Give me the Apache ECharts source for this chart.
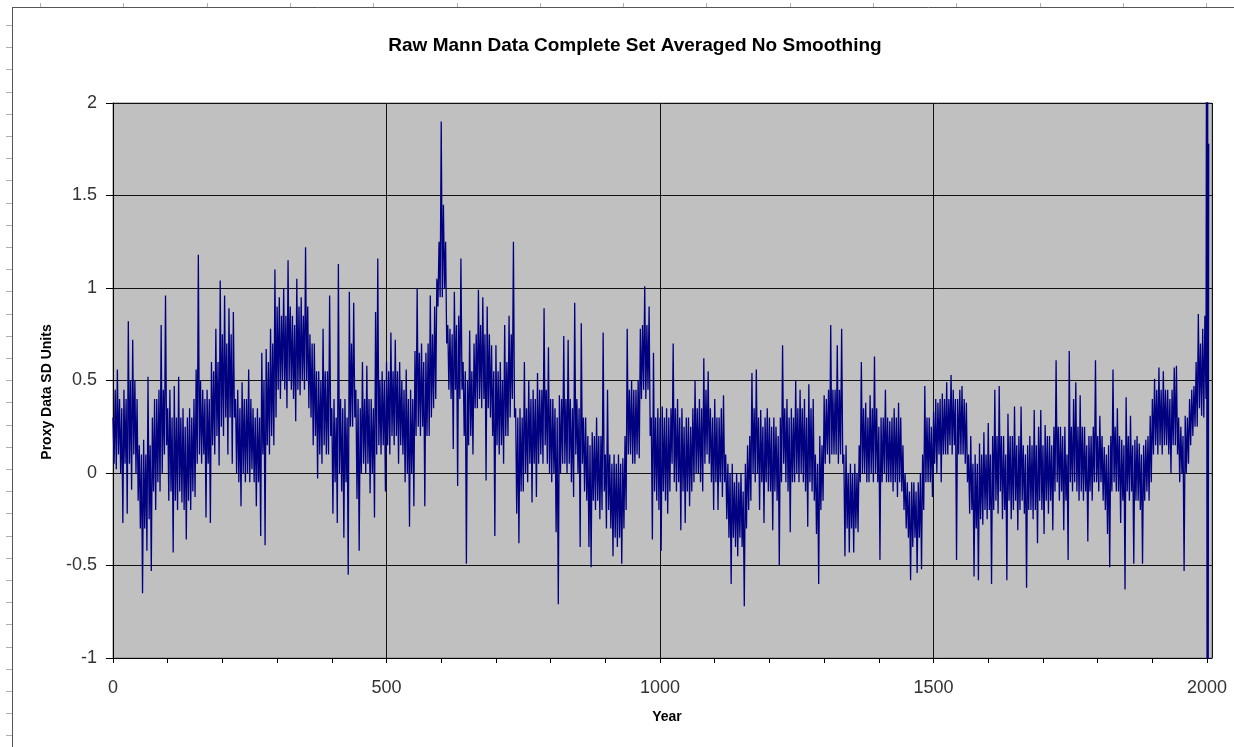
<!DOCTYPE html>
<html>
<head>
<meta charset="utf-8">
<title>Raw Mann Data Complete Set Averaged No Smoothing</title>
<script src="https://cdn.jsdelivr.net/npm/echarts@6/dist/echarts.min.js"></script>
<style>
  html, body { margin: 0; padding: 0; background: #ffffff; }
  #chart { width: 1234px; height: 747px; }
</style>
</head>
<body>
<div id="chart"></div>
<script>
// Averaged proxy series, in SD units, sampled every 2 years; one array per century.
const chartTitle = 'Raw Mann Data Complete Set Averaged No Smoothing';
const xAxisTitle = 'Year';
const yAxisTitle = 'Proxy Data SD Units';
const yearStep = 2;

const c0000 = [0.30, 0.05, 0.45, 0.02, 0.56, 0.10, 0.40, 0.00, 0.35, -0.27, 0.45, 0.05, 0.40, -0.22, 0.82, 0.05, 0.50, -0.09, 0.72, 0.10, 0.50, 0.00, 0.40, -0.15, 0.15, -0.30, 0.10, -0.65, 0.18, -0.30, 0.10, -0.42, 0.52, -0.25, 0.15, -0.53, 0.30, -0.10, 0.40, -0.20, 0.40, -0.05, 0.45, -0.10, 0.80, 0.00, 0.45, 0.10, 0.96, 0.15];
const c0100 = [0.35, -0.15, 0.45, -0.10, 0.30, -0.43, 0.47, -0.15, 0.30, -0.20, 0.52, -0.10, 0.30, -0.16, 0.35, -0.20, 0.25, -0.36, 0.30, -0.15, 0.35, -0.20, 0.30, -0.10, 0.40, -0.13, 0.56, 0.05, 1.18, 0.10, 0.50, 0.05, 0.45, 0.10, 0.40, -0.24, 0.45, 0.05, 0.40, -0.27, 0.60, 0.15, 0.55, 0.10, 0.78, 0.20, 0.60, 0.04, 1.04, 0.25];
const c0200 = [0.75, 0.20, 0.96, 0.30, 0.70, 0.10, 0.89, 0.30, 0.75, 0.05, 0.87, 0.30, 0.40, 0.00, 0.45, -0.05, 0.35, -0.18, 0.49, 0.00, 0.40, -0.05, 0.40, 0.00, 0.56, -0.05, 0.40, 0.02, 0.35, -0.05, 0.30, -0.18, 0.35, -0.05, 0.30, -0.34, 0.65, 0.10, 0.50, -0.39, 0.67, 0.15, 0.60, 0.10, 0.78, 0.20, 0.70, 0.15, 1.10, 0.30];
const c0300 = [0.90, 0.45, 0.95, 0.40, 0.85, 0.50, 1.00, 0.45, 0.85, 0.35, 1.15, 0.50, 0.90, 0.45, 0.85, 0.40, 0.80, 0.28, 1.05, 0.45, 0.90, 0.42, 0.95, 0.50, 0.85, 0.45, 1.22, 0.50, 0.90, 0.35, 0.75, 0.30, 0.70, 0.15, 0.70, 0.20, 0.55, -0.03, 0.55, 0.10, 0.50, 0.05, 0.78, 0.15, 0.55, 0.10, 0.55, 0.10, 0.96, 0.20];
const c0400 = [0.35, -0.22, 0.40, -0.05, 0.30, -0.27, 1.13, 0.00, 0.40, -0.10, 0.35, -0.35, 0.40, -0.05, 0.30, -0.55, 0.98, 0.25, 0.70, 0.25, 0.92, 0.30, 0.45, -0.14, 0.40, -0.42, 0.35, 0.00, 0.60, 0.05, 0.40, 0.00, 0.58, 0.05, 0.40, -0.11, 0.40, 0.00, 0.35, -0.24, 0.87, 0.10, 1.16, 0.15, 0.50, 0.10, 0.55, 0.15, 0.50, -0.10];
const c0500 = [0.60, 0.15, 0.55, 0.10, 0.76, 0.20, 0.55, 0.15, 0.72, 0.20, 0.55, 0.05, 0.60, 0.15, 0.50, 0.10, 0.45, -0.05, 0.56, 0.00, 0.40, -0.29, 0.45, 0.00, 0.40, -0.18, 0.66, 0.20, 1.00, 0.25, 0.65, 0.20, 0.70, 0.25, 0.60, -0.18, 0.65, 0.20, 0.70, 0.20, 0.96, 0.30, 0.75, 0.35, 0.90, 0.40, 1.05, 0.90, 1.25, 0.95];
const c0600 = [1.90, 0.95, 1.45, 1.00, 1.25, 0.70, 0.80, 0.45, 0.78, 0.40, 0.75, 0.13, 0.98, 0.45, 0.80, -0.07, 0.85, 0.40, 1.16, 0.45, 0.60, 0.20, 0.55, -0.49, 0.50, 0.15, 0.77, 0.20, 0.55, 0.10, 0.70, 0.35, 0.75, 0.35, 0.99, 0.40, 0.80, 0.35, 0.95, 0.40, 0.75, -0.04, 0.90, 0.35, 0.75, 0.30, 0.69, 0.20, 0.55, -0.34];
const c0700 = [0.69, 0.15, 0.55, 0.10, 0.60, 0.15, 0.50, 0.05, 0.80, 0.20, 0.60, 0.20, 0.85, 0.30, 0.75, 0.40, 1.25, 0.30, 0.35, -0.22, 0.30, -0.38, 0.35, -0.10, 0.30, -0.10, 0.60, 0.00, 0.35, -0.05, 0.50, 0.05, 0.40, -0.16, 0.45, 0.05, 0.40, -0.13, 0.54, 0.05, 0.45, 0.10, 0.45, 0.05, 0.89, 0.15, 0.45, 0.05, 0.68, 0.00];
const c0800 = [0.40, -0.05, 0.40, 0.00, 0.35, -0.32, 0.30, -0.71, 0.42, 0.00, 0.40, 0.05, 0.74, 0.05, 0.40, 0.00, 0.72, 0.05, 0.40, -0.05, 0.35, -0.13, 0.92, 0.10, 0.40, 0.00, 0.35, -0.40, 0.81, 0.05, 0.30, -0.10, 0.30, -0.15, 0.20, -0.40, 0.15, -0.51, 0.22, -0.15, 0.20, -0.20, 0.30, -0.15, 0.20, -0.25, 0.20, -0.20, 0.76, -0.10];
const c0900 = [0.10, -0.30, 0.45, -0.20, 0.10, -0.30, 0.05, -0.45, 0.10, -0.35, 0.05, -0.40, 0.10, -0.35, 0.05, -0.49, 0.08, -0.30, 0.20, -0.20, 0.78, 0.10, 0.45, 0.10, 0.50, 0.05, 0.45, 0.05, 0.45, 0.10, 0.50, 0.08, 0.78, 0.40, 0.80, 0.45, 1.01, 0.40, 0.80, 0.45, 0.90, 0.20, 0.30, -0.36, 0.65, -0.10, 0.30, -0.15, 0.35, -0.20];
const c1000 = [0.30, -0.42, 0.36, -0.10, 0.30, -0.15, 0.35, -0.22, 0.30, -0.10, 0.35, 0.05, 0.70, -0.05, 0.35, -0.10, 0.40, -0.05, 0.30, -0.31, 0.35, -0.10, 0.25, -0.27, 0.30, -0.10, 0.30, -0.18, 0.25, -0.10, 0.35, -0.05, 0.50, 0.00, 0.35, 0.00, 0.40, -0.05, 0.35, -0.10, 0.62, 0.05, 0.45, 0.10, 0.55, 0.05, 0.35, -0.05, 0.30, -0.20];
const c1100 = [0.40, -0.05, 0.30, -0.20, 0.30, -0.05, 0.35, -0.13, 0.42, -0.05, 0.10, -0.25, 0.05, -0.35, 0.00, -0.60, 0.05, -0.35, -0.05, -0.40, 0.00, -0.45, -0.05, -0.35, 0.00, -0.40, -0.10, -0.72, 0.05, -0.30, 0.15, -0.20, 0.20, -0.15, 0.54, 0.00, 0.35, -0.05, 0.56, 0.00, 0.30, -0.20, 0.34, -0.05, 0.25, -0.27, 0.30, -0.05, 0.35, -0.10];
const c1200 = [0.30, -0.10, 0.25, -0.31, 0.30, -0.10, 0.25, -0.15, 0.20, -0.50, 0.30, -0.05, 0.69, 0.05, 0.35, -0.05, 0.40, -0.10, 0.30, -0.32, 0.35, -0.05, 0.30, -0.05, 0.50, 0.00, 0.35, -0.05, 0.45, 0.00, 0.35, -0.05, 0.40, -0.10, 0.30, -0.29, 0.48, -0.05, 0.35, -0.10, 0.40, -0.15, 0.10, -0.33, 0.05, -0.60, 0.20, -0.20, 0.15, -0.15];
const c1300 = [0.42, 0.05, 0.40, 0.10, 0.45, 0.05, 0.80, 0.10, 0.45, 0.10, 0.45, 0.10, 0.69, 0.05, 0.45, 0.10, 0.78, 0.05, 0.10, -0.45, 0.15, -0.30, 0.00, -0.43, 0.05, -0.30, 0.00, -0.43, 0.05, -0.30, 0.00, -0.32, 0.15, -0.05, 0.60, 0.00, 0.35, 0.00, 0.38, -0.05, 0.30, -0.05, 0.42, 0.00, 0.35, -0.05, 0.63, 0.00, 0.35, -0.05];
const c1400 = [0.25, -0.47, 0.30, -0.05, 0.30, 0.00, 0.45, -0.05, 0.30, -0.05, 0.28, -0.05, 0.30, -0.10, 0.35, -0.05, 0.30, -0.13, 0.38, -0.05, 0.30, -0.10, 0.15, -0.20, 0.00, -0.30, -0.05, -0.35, -0.10, -0.58, -0.05, -0.40, -0.05, -0.35, -0.10, -0.54, -0.05, -0.35, 0.00, -0.52, 0.10, -0.20, 0.47, -0.05, 0.30, -0.05, 0.30, -0.05, 0.25, -0.13];
const c1500 = [0.33, 0.05, 0.40, 0.00, 0.38, 0.10, 0.40, -0.05, 0.43, 0.10, 0.40, 0.10, 0.49, 0.10, 0.40, 0.15, 0.53, 0.10, 0.45, 0.15, 0.40, -0.47, 0.40, 0.10, 0.45, 0.10, 0.47, 0.10, 0.40, 0.05, 0.38, -0.05, 0.10, -0.22, 0.20, -0.20, 0.05, -0.56, 0.10, -0.30, 0.05, -0.58, 0.16, -0.25, 0.10, -0.28, 0.22, -0.20, 0.10, -0.25];
const c1600 = [0.27, -0.20, 0.10, -0.60, 0.20, -0.20, 0.45, -0.15, 0.20, -0.22, 0.47, -0.10, 0.20, -0.25, 0.20, -0.20, 0.10, -0.58, 0.32, -0.15, 0.20, -0.25, 0.20, -0.20, 0.36, -0.15, 0.15, -0.31, 0.20, -0.20, 0.36, -0.15, 0.15, -0.22, 0.10, -0.62, 0.15, -0.20, 0.20, -0.20, 0.15, -0.25, 0.34, -0.20, 0.15, -0.38, 0.25, -0.15, 0.34, -0.20];
const c1700 = [0.15, -0.33, 0.26, -0.15, 0.20, -0.22, 0.20, -0.15, 0.15, -0.31, 0.25, -0.10, 0.61, -0.05, 0.25, -0.15, 0.25, -0.10, 0.20, -0.31, 0.25, -0.15, 0.10, -0.47, 0.66, -0.05, 0.25, -0.10, 0.40, -0.05, 0.49, -0.10, 0.25, -0.15, 0.42, -0.10, 0.25, -0.15, 0.25, -0.10, 0.15, -0.37, 0.20, -0.10, 0.20, -0.15, 0.25, -0.05, 0.61, -0.05];
const c1800 = [0.20, -0.10, 0.31, -0.05, 0.20, -0.15, 0.14, -0.20, 0.10, -0.33, 0.15, -0.51, 0.20, -0.10, 0.56, -0.05, 0.25, -0.10, 0.35, -0.10, 0.20, -0.27, 0.18, -0.15, 0.15, -0.63, 0.41, -0.10, 0.20, -0.15, 0.31, -0.10, 0.15, -0.49, 0.18, -0.15, 0.20, -0.15, 0.16, -0.20, 0.10, -0.49, 0.15, -0.15, 0.18, -0.10, 0.20, -0.15, 0.31, -0.05];
const c1900 = [0.40, 0.10, 0.51, 0.15, 0.45, 0.10, 0.57, 0.15, 0.45, 0.10, 0.55, 0.15, 0.45, 0.15, 0.45, 0.10, 0.40, 0.00, 0.45, 0.15, 0.57, 0.15, 0.58, 0.10, 0.30, -0.05, 0.25, 0.00, 0.20, -0.53, 0.31, 0.00, 0.30, 0.05, 0.40, 0.15, 0.45, 0.20, 0.47, 0.25, 0.60, 0.25, 0.86, 0.35, 0.70, 0.31, 0.78, 0.30, 0.85, 0.40];

// Closing years, sampled yearly: the series runs off both ends of the scale.
const tailYears = [1999, 2000, 2001, 2002, 2003];
const tailValues = [2.60, -1.30, 2.60, -1.30, 1.78];

const centuries = [c0000, c0100, c0200, c0300, c0400, c0500, c0600, c0700, c0800, c0900,
                   c1000, c1100, c1200, c1300, c1400, c1500, c1600, c1700, c1800, c1900];

const xLabelValues = [0, 500, 1000, 1500, 2000];
const xTickValues = [0, 100, 200, 300, 400, 500, 600, 700, 800, 900, 1000,
                     1100, 1200, 1300, 1400, 1500, 1600, 1700, 1800, 1900, 2000];

const seriesData = [];
centuries.forEach(function (values, ci) {
  values.forEach(function (v, k) {
    seriesData.push([ci * 100 + k * yearStep, v]);
  });
});
tailYears.forEach(function (yr, i) { seriesData.push([yr, tailValues[i]]); });

// Sheet frame with ruler marks along the top and left edges.
const frame = [
  { type: 'line', shape: { x1: 12, y1: 7.5, x2: 1234, y2: 7.5 }, style: { stroke: '#555', lineWidth: 1 }, silent: true },
  { type: 'line', shape: { x1: 12.5, y1: 7, x2: 12.5, y2: 747 }, style: { stroke: '#555', lineWidth: 1 }, silent: true }
];
for (let x = 40; x < 1234; x += 83.3) {
  frame.push({ type: 'line', shape: { x1: Math.round(x) + 0.5, y1: 3, x2: Math.round(x) + 0.5, y2: 7 }, style: { stroke: '#b0b0b0', lineWidth: 1 }, silent: true });
}
for (let y = 25; y < 747; y += 22.2) {
  frame.push({ type: 'line', shape: { x1: 6, y1: Math.round(y) + 0.5, x2: 12, y2: Math.round(y) + 0.5 }, style: { stroke: '#b0b0b0', lineWidth: 1 }, silent: true });
}

const labelFont = 'Liberation Sans, Arial, sans-serif';
const chart = echarts.init(document.getElementById('chart'), null, { renderer: 'canvas' });
chart.setOption({
  animation: false,
  backgroundColor: '#ffffff',
  textStyle: { fontFamily: labelFont },
  graphic: frame.concat([
    { type: 'text', x: 635, y: 46, style: { text: chartTitle, font: 'bold 19px "Liberation Sans", Arial, sans-serif', fill: '#000', align: 'center', verticalAlign: 'middle' }, silent: true },
    { type: 'text', x: 667, y: 717, style: { text: xAxisTitle, font: 'bold 14px "Liberation Sans", Arial, sans-serif', fill: '#000', align: 'center', verticalAlign: 'middle' }, silent: true },
    { type: 'text', x: 47, y: 392, rotation: Math.PI / 2, style: { text: yAxisTitle, font: 'bold 14px "Liberation Sans", Arial, sans-serif', fill: '#000', align: 'center', verticalAlign: 'middle' }, silent: true }
  ]),
  grid: {
    left: 113, top: 103, right: 22, bottom: 89,
    show: true, backgroundColor: '#c0c0c0', borderColor: '#808080', borderWidth: 1
  },
  xAxis: [{
    // year axis: labels every 500 years, tick marks every century
    type: 'value', min: 0, max: 2009, interval: 500,
    axisLine: { show: true, onZero: false, lineStyle: { color: '#000', width: 1 } },
    axisTick: { show: true, inside: false, length: 5, customValues: xTickValues, lineStyle: { color: '#000' } },
    axisLabel: {
      show: true, customValues: xLabelValues, margin: 21, fontSize: 18, color: '#333', fontFamily: labelFont,
      formatter: function (v) { return String(v); }
    },
    splitLine: { show: false }
  }, {
    // companion axis carrying only the vertical gridlines every 500 years
    type: 'value', min: 0, max: 2009, interval: 500,
    axisLine: { show: false },
    axisTick: { show: false },
    axisLabel: { show: false },
    splitLine: { show: true, lineStyle: { color: '#111', width: 1 } }
  }],
  yAxis: {
    type: 'value', min: -1, max: 2, interval: 0.5,
    axisLine: { show: true, onZero: false, lineStyle: { color: '#000', width: 1 } },
    axisTick: { show: true, inside: false, length: 7, lineStyle: { color: '#000' } },
    axisLabel: { margin: 16, fontSize: 18, color: '#333', fontFamily: labelFont },
    splitLine: { show: true, lineStyle: { color: '#111', width: 1 } }
  },
  series: [{
    type: 'line',
    xAxisIndex: 0,
    data: seriesData,
    showSymbol: false,
    symbol: 'none',
    clip: true,
    lineStyle: { color: '#000080', width: 1.3 },
    z: 3
  }]
});
</script>
</body>
</html>
